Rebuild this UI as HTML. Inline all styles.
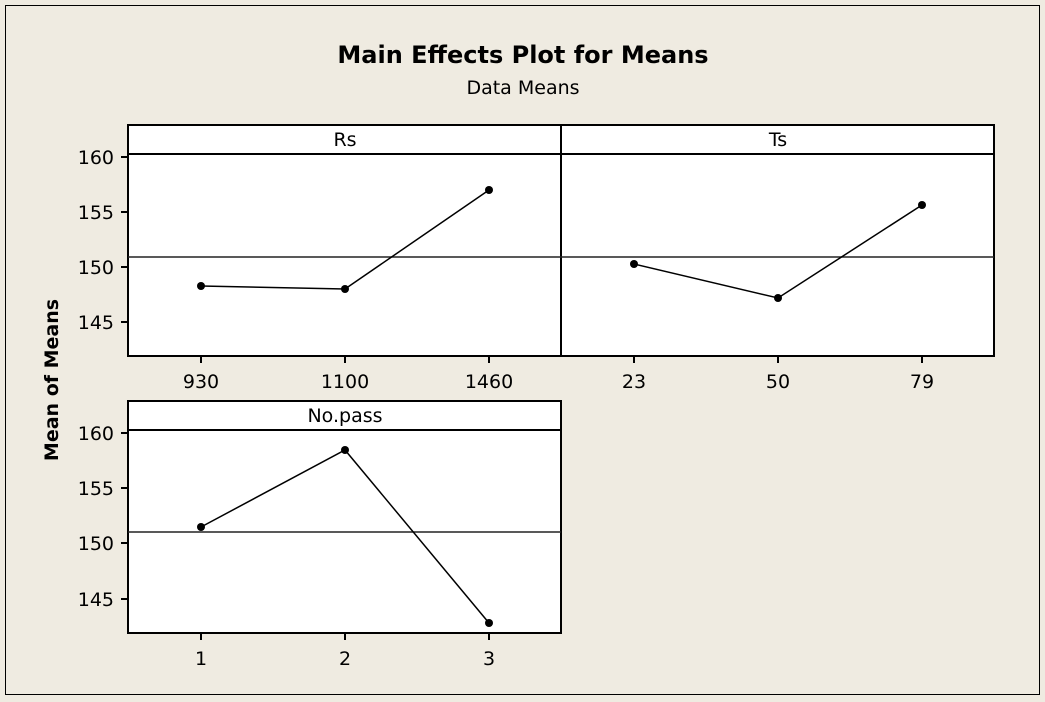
<!DOCTYPE html>
<html><head><meta charset="utf-8"><style>
body{margin:0;background:#fff}
svg{display:block}
text{font-family:"DejaVu Sans","Liberation Sans",sans-serif;fill:#000}
</style></head><body>
<svg width="1045" height="702" viewBox="0 0 1045 702">
<rect x="0" y="0" width="1045" height="702" fill="#efebe1"/>
<rect x="5.5" y="5.5" width="1034" height="689" fill="none" stroke="#000" stroke-width="1"/>
<text x="523" y="63" text-anchor="middle" font-size="24" font-weight="bold">Main Effects Plot for Means</text>
<text x="523" y="94" text-anchor="middle" font-size="19">Data Means</text>
<text transform="translate(58,380) rotate(-90)" text-anchor="middle" font-size="19" font-weight="bold">Mean of Means</text>

<g stroke="#000" fill="none">
<rect x="128" y="125" width="866" height="231" fill="#fff" stroke-width="2"/>
<line x1="561" y1="125" x2="561" y2="356" stroke-width="2"/>
<line x1="128" y1="154" x2="994" y2="154" stroke-width="2"/>
<line x1="128" y1="257" x2="994" y2="257" stroke="#222" stroke-width="1.5"/>
<rect x="128" y="401" width="433" height="232" fill="#fff" stroke-width="2"/>
<line x1="128" y1="430" x2="561" y2="430" stroke-width="2"/>
<line x1="128" y1="532" x2="561" y2="532" stroke="#222" stroke-width="1.5"/>
<g stroke-width="2">
<line x1="121" y1="157" x2="128" y2="157"/><line x1="121" y1="212" x2="128" y2="212"/><line x1="121" y1="267" x2="128" y2="267"/><line x1="121" y1="322" x2="128" y2="322"/>
<line x1="121" y1="433" x2="128" y2="433"/><line x1="121" y1="488" x2="128" y2="488"/><line x1="121" y1="543" x2="128" y2="543"/><line x1="121" y1="599" x2="128" y2="599"/>
<line x1="201" y1="356" x2="201" y2="363"/><line x1="345" y1="356" x2="345" y2="363"/><line x1="489" y1="356" x2="489" y2="363"/>
<line x1="634" y1="356" x2="634" y2="363"/><line x1="778" y1="356" x2="778" y2="363"/><line x1="922" y1="356" x2="922" y2="363"/>
<line x1="201" y1="633" x2="201" y2="640"/><line x1="345" y1="633" x2="345" y2="640"/><line x1="489" y1="633" x2="489" y2="640"/>
</g>
<polyline points="201,286 345,289 489,190" stroke-width="1.5"/>
<polyline points="634,264 778,298 922,205" stroke-width="1.5"/>
<polyline points="201,527 345,450 489,623" stroke-width="1.5"/>
</g>
<g fill="#000">
<circle cx="201" cy="286" r="4"/><circle cx="345" cy="289" r="4"/><circle cx="489" cy="190" r="4"/>
<circle cx="634" cy="264" r="4"/><circle cx="778" cy="298" r="4"/><circle cx="922" cy="205" r="4"/>
<circle cx="201" cy="527" r="4"/><circle cx="345" cy="450" r="4"/><circle cx="489" cy="623" r="4"/>
</g>
<g font-size="19" text-anchor="end">
<text x="114" y="164">160</text><text x="114" y="219">155</text><text x="114" y="274">150</text><text x="114" y="329">145</text>
<text x="114" y="440">160</text><text x="114" y="495">155</text><text x="114" y="550">150</text><text x="114" y="606">145</text>
</g>
<g font-size="19" text-anchor="middle">
<text x="201" y="388">930</text><text x="345" y="388">1100</text><text x="489" y="388">1460</text>
<text x="634" y="388">23</text><text x="778" y="388">50</text><text x="922" y="388">79</text>
<text x="201" y="665">1</text><text x="345" y="665">2</text><text x="489" y="665">3</text>
<text x="345" y="146">Rs</text><text x="778" y="146">Ts</text><text x="345" y="422">No.pass</text>
</g>
</svg>
</body></html>
